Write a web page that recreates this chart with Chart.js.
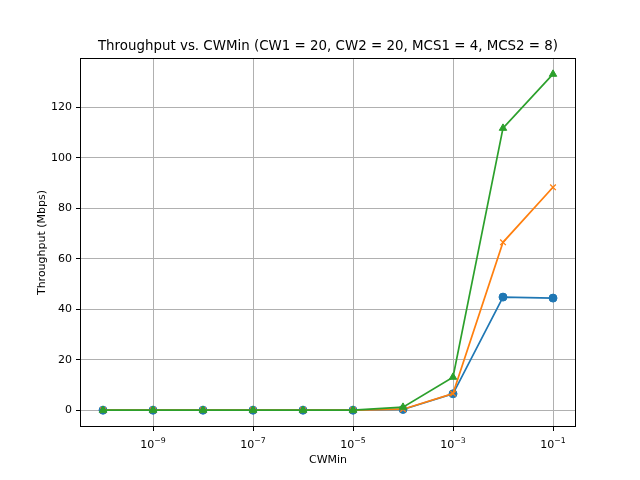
<!DOCTYPE html>
<html>
<head>
<meta charset="utf-8">
<script src="https://cdn.jsdelivr.net/npm/chart.js@4"></script>
<style>
html,body{margin:0;padding:0;background:#fff;}
#wrap{width:640px;height:480px;}
</style>
</head>
<body>
<div id="wrap"><canvas id="c" width="640" height="480"></canvas></div>
<script>
const cwMin = [1e-10, 1e-9, 1e-8, 1e-7, 1e-6, 1e-5, 1e-4, 1e-3, 1e-2, 1e-1];
const series1 = [0, 0, 0, 0, 0, 0, 0.3, 6.5, 44.8, 44.4];
const series2 = [0, 0, 0, 0, 0, 0, 0.4, 6.6, 66.5, 88.3];
const series3 = [0, 0, 0, 0, 0, 0, 1.2, 13.1, 111.7, 133.1];
const xTicks = [1e-9, 1e-7, 1e-5, 1e-3, 1e-1];
const yTicks = [0, 20, 40, 60, 80, 100, 120];
const titleText = 'Throughput vs. CWMin (CW1 = 20, CW2 = 20, MCS1 = 4, MCS2 = 8)';
const xTitle = 'CWMin';
const yTitle = 'Throughput (Mbps)';

const FONT = '"DejaVu Sans"';
const pts = arr => arr.map((y,i)=>({x:cwMin[i], y:y}));

const textPlugin = {
  id:'mtext',
  afterDraw(chart){
    const ctx = chart.ctx, a = chart.chartArea;
    const xs = chart.scales.x;
    ctx.save();
    // axes box
    const l = Math.round(a.left), r = Math.round(a.right), t = Math.round(a.top), b = Math.round(a.bottom);
    ctx.strokeStyle = '#000'; ctx.lineWidth = 1;
    ctx.strokeRect(l + 0.5, t + 0.5, r - l - 1, b - t - 1);
    ctx.fillStyle = '#000';
    // title
    ctx.font = '13.4px ' + FONT;
    ctx.textAlign = 'center';
    ctx.textBaseline = 'alphabetic';
    ctx.fillText(titleText, (a.left + a.right)/2, a.top - 8);
    // x tick labels: 10 with raised exponent
    xTicks.forEach(v => {
      const px = xs.getPixelForValue(v);
      const e = '\u2212' + String(Math.abs(Math.round(Math.log10(v))));
      ctx.font = '11px ' + FONT;
      const wb = ctx.measureText('10').width;
      ctx.font = '7.8px ' + FONT;
      const we = ctx.measureText(e).width;
      const start = px - (wb + we)/2;
      ctx.textAlign = 'left';
      ctx.font = '11px ' + FONT;
      ctx.fillText('10', start, a.bottom + 21);
      ctx.font = '7.8px ' + FONT;
      ctx.fillText(e, start + wb, a.bottom + 16);
    });
    // axis titles
    ctx.font = '11px ' + FONT;
    ctx.textAlign = 'center';
    ctx.textBaseline = 'middle';
    ctx.fillText(xTitle, (a.left + a.right)/2, 460);
    ctx.translate(42, (a.top + a.bottom)/2);
    ctx.rotate(-Math.PI/2);
    ctx.fillText(yTitle, 0, 0);
    ctx.restore();
  }
};
const bg = {
  id:'bg',
  beforeDraw(chart){
    const ctx = chart.ctx;
    ctx.save(); ctx.fillStyle='#fff'; ctx.fillRect(0,0,chart.width,chart.height); ctx.restore();
  }
};

function ds(label, data, color, style, order){
  return {
    label, data: pts(data), borderColor: color, backgroundColor: color,
    borderWidth: 1.7, pointStyle: style, pointRadius: style==='triangle'?4.3:4,
    pointBorderWidth: style==='crossRot'?1.3:1, pointBorderColor: color,
    pointBackgroundColor: color, tension: 0, order
  };
}

new Chart(document.getElementById('c'), {
  type: 'line',
  data: {
    datasets: [
      ds('MCS1', series1, '#1f77b4', 'circle', 2),
      ds('MCS2', series2, '#ff7f0e', 'crossRot', 1),
      ds('Sum', series3, '#2ca02c', 'triangle', 0)
    ]
  },
  options: {
    responsive: false,
    animation: false,
    devicePixelRatio: 1,
    layout: { padding: { left: 0, right: 64, top: 58, bottom: 0 } },
    plugins: { legend: { display: false }, tooltip: { enabled: false }, title: { display: false } },
    scales: {
      x: {
        type: 'logarithmic',
        min: Math.pow(10, -10.46),
        max: Math.pow(10, -0.54),
        afterBuildTicks(scale){ scale.ticks = xTicks.map(v=>({value:v})); },
        afterFit(scale){ scale.height = 53; },
        ticks: { display: false },
        grid: { color: '#b0b0b0', lineWidth: 1, tickColor: '#000', tickLength: 4 },
        border: { display: false }
      },
      y: {
        type: 'linear',
        min: -6.65,
        max: 139.5,
        afterBuildTicks(scale){ scale.ticks = yTicks.map(v=>({value:v})); },
        afterFit(scale){ scale.width = 80; },
        ticks: {
          padding: 4, color: '#000', font: { family: 'DejaVu Sans', size: 11 },
          callback: (v) => String(v)
        },
        grid: { color: '#b0b0b0', lineWidth: 1, tickColor: '#000', tickLength: 4 },
        border: { display: false }
      }
    }
  },
  plugins: [bg, textPlugin]
});
</script>
</body>
</html>
